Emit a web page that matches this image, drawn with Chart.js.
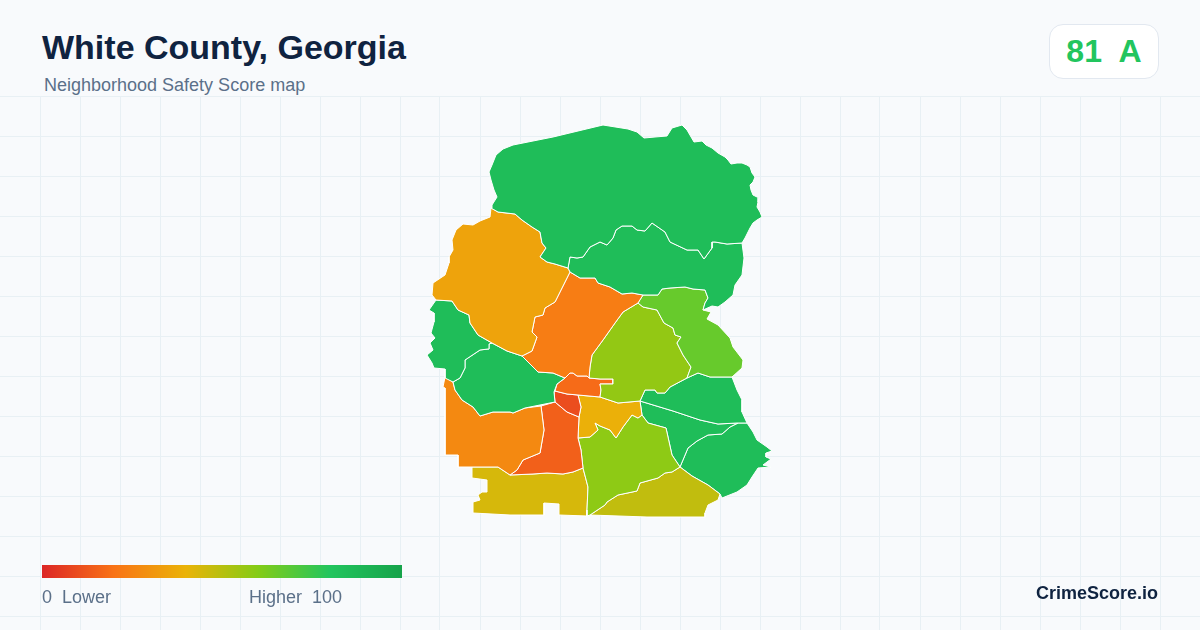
<!DOCTYPE html>
<html>
<head>
<meta charset="utf-8">
<title>White County, Georgia</title>
<script src="https://cdn.jsdelivr.net/npm/chart.js@4"></script>
<style>
    html, body { margin: 0; padding: 0; }
    body { width: 1200px; height: 630px; background: #f8fafc; position: relative; overflow: hidden; font-family: "Liberation Sans", Arial, sans-serif; }
    #myChart { position: absolute; left: 0; top: 96px; }
    .label { position: absolute; white-space: pre; }
    #title { left: 42px; top: 27px; font-size: 34px; font-weight: bold; color: #0f2340; line-height: 40px; }
    #subtitle { left: 44px; top: 75px; font-size: 18px; color: #5b7089; line-height: 20px; }
    #badge { position: absolute; left: 1049px; top: 24px; width: 108px; height: 53px; background: #fff; border: 1px solid #e2e8f0; border-radius: 14px; }
    #score { left: 1050px; width: 108px; top: 31px; text-align: center; font-size: 32px; font-weight: bold; color: #22c55e; line-height: 40px; }
    #ramp { position: absolute; left: 42px; top: 565px; width: 360px; height: 13px; }
    #low { left: 42px; top: 587px; font-size: 18px; color: #5b7089; line-height: 20px; }
    #high { left: 249px; top: 587px; font-size: 18px; color: #5b7089; line-height: 20px; }
    #brand { left: 1036px; top: 583px; font-size: 18px; font-weight: bold; color: #0f2340; line-height: 20px; }
</style>
</head>
<body>
<canvas id="myChart" width="1200" height="534"></canvas>
<div class="label" id="title">White County, Georgia</div>
<div class="label" id="subtitle">Neighborhood Safety Score map</div>
<div id="badge"></div>
<div class="label" id="score">81  A</div>
<div id="ramp"></div>
<div class="label" id="low">0  Lower</div>
<div class="label" id="high">Higher  100</div>
<div class="label" id="brand">CrimeScore.io</div>
<script>
const rampStops = [0, 20, 40, 60, 80, 100];
const rampColors = ['#dc2626', '#f97316', '#eab308', '#84cc16', '#22c55e', '#16a34a'];

const gridX = [40, 80, 120, 160, 200, 240, 280, 320, 360, 400, 440, 480, 520, 560, 600, 640, 680, 720, 760, 800, 840, 880, 920, 960, 1000, 1040, 1080, 1120, 1160];
const gridY = [96, 136, 176, 216, 256, 296, 336, 376, 416, 456, 496, 536, 576, 616];

const tractScores = [85, 85, 35, 23, 85, 85, 66, 57, 18, 10, 27, 15, 39, 58, 44, 48, 85, 85, 85];

// tract outlines
const northTract = [[492,205],[497,197],[494,190],[491,180],[489,172],[492,165],[496,155],[503,149],[513,145],[553,137],[603,125],[628,129],[637,132],[644,138],[655,137],[667,136],[672,128],[682,125],[687,130],[694,142],[702,141],[706,145],[712,148],[718,153],[725,157],[728,160],[731,164],[737,163],[742,163],[747,165],[750,167],[752,173],[755,177],[753,182],[750,185],[751,190],[753,195],[759,198],[758,202],[757,207],[760,212],[762,217],[757,220],[753,223],[750,228],[748,232],[745,238],[742,243],[727,244],[715,242],[712,242],[712,248],[704,259],[698,250],[687,250],[670,242],[665,232],[652,223],[645,231],[637,230],[632,226],[622,226],[616,230],[613,238],[607,245],[600,242],[590,247],[583,257],[577,258],[570,257],[568,268],[555,264],[547,262],[540,257],[546,248],[542,243],[540,232],[532,227],[522,220],[515,214],[498,212],[491,208],[492,205]];
const ridgeTract = [[742,243],[744,258],[742,275],[735,285],[733,295],[725,302],[718,307],[712,306],[703,310],[705,303],[708,298],[705,290],[693,289],[685,287],[670,288],[662,289],[658,295],[643,295],[632,293],[622,294],[610,287],[598,283],[595,278],[580,278],[570,272],[568,268],[570,257],[577,258],[583,257],[590,247],[600,242],[607,245],[613,238],[616,230],[622,226],[632,226],[637,230],[645,231],[652,223],[665,232],[670,242],[687,250],[698,250],[704,259],[712,248],[712,242],[715,242],[727,244],[742,243]];
const westernOrange = [[491,208],[490,217],[480,221],[473,225],[463,224],[456,230],[452,240],[453,250],[449,257],[449,263],[445,275],[433,283],[432,295],[436,300],[452,301],[458,310],[469,315],[470,323],[478,335],[492,343],[507,351],[522,356],[532,351],[537,337],[532,332],[535,317],[543,315],[545,308],[555,302],[560,292],[570,272],[568,268],[555,264],[547,262],[540,257],[546,248],[542,243],[540,232],[532,227],[522,220],[515,214],[498,212],[491,208]];
const centralOrange = [[570,272],[580,278],[595,278],[598,283],[610,287],[622,294],[632,293],[643,295],[638,303],[623,312],[615,323],[603,340],[592,355],[590,367],[589,378],[587,376],[577,376],[573,373],[570,373],[565,378],[553,373],[538,372],[522,356],[532,351],[537,337],[532,332],[535,317],[543,315],[545,308],[555,302],[560,292],[570,272]];
const westGreen = [[436,300],[429,310],[434,313],[434,322],[431,333],[435,338],[430,343],[433,350],[427,355],[432,363],[434,368],[445,369],[445,378],[453,382],[460,378],[465,368],[465,360],[480,350],[488,349],[489,344],[492,343],[478,335],[470,323],[469,315],[458,310],[452,301],[436,300]];
const midWestGreen = [[492,343],[507,351],[522,356],[538,372],[553,373],[565,378],[557,384],[554,392],[555,402],[540,405],[525,408],[513,413],[510,412],[493,412],[480,416],[473,407],[462,400],[455,390],[453,382],[460,378],[465,368],[465,360],[480,350],[488,349],[489,344],[492,343]];
const lightGreen = [[643,295],[658,295],[662,289],[670,288],[685,287],[693,289],[705,290],[708,298],[705,303],[703,310],[711,312],[707,319],[718,325],[730,338],[733,347],[743,360],[742,368],[732,377],[722,377],[710,377],[698,373],[687,378],[691,367],[683,355],[677,343],[681,337],[675,335],[673,328],[664,323],[657,310],[643,307],[638,303],[643,295]];
const centerLime = [[638,303],[643,307],[657,310],[664,323],[673,328],[675,335],[681,337],[677,343],[683,355],[691,367],[687,378],[670,387],[665,393],[657,393],[655,390],[645,390],[640,401],[618,403],[600,397],[601,390],[600,384],[613,384],[613,379],[600,379],[589,378],[590,367],[592,355],[603,340],[615,323],[623,312],[638,303]];
const townOrange = [[555,391],[557,384],[565,378],[570,373],[573,373],[577,376],[587,376],[589,378],[600,379],[613,379],[613,384],[600,384],[601,390],[600,397],[578,395],[567,394],[555,391]];
const townRed = [[555,391],[567,394],[578,395],[581,407],[579,417],[567,412],[555,402],[554,392],[555,391]];
const southWestOrange = [[453,382],[445,377],[443,387],[445,388],[445,455],[458,455],[458,467],[472,467],[488,467],[498,467],[510,475],[517,470],[523,460],[540,453],[544,430],[541,406],[525,408],[513,413],[510,412],[493,412],[480,416],[473,407],[462,400],[455,390],[453,382]];
const southCentral = [[541,406],[555,402],[567,412],[579,417],[578,438],[581,450],[583,468],[573,472],[563,474],[547,473],[533,474],[510,475],[517,470],[523,460],[540,453],[544,430],[541,406]];
const centerYellow = [[578,395],[600,397],[618,403],[640,401],[642,415],[638,418],[632,415],[623,427],[616,438],[610,430],[600,426],[595,423],[598,430],[590,437],[578,438],[579,417],[581,407],[578,395]];
const southLime = [[680,467],[672,455],[666,428],[648,423],[642,415],[638,418],[632,415],[623,427],[616,438],[610,430],[600,426],[595,423],[598,430],[590,437],[578,438],[581,450],[583,468],[588,487],[587,510],[587,516],[590,515],[605,505],[607,502],[618,495],[637,491],[640,483],[658,478],[665,473],[672,472],[680,467]];
const southYellow = [[472,467],[488,467],[498,467],[510,475],[533,474],[547,473],[563,474],[573,472],[583,468],[588,487],[587,510],[587,516],[559,515],[559,504],[544,503],[544,515],[510,515],[473,513],[473,502],[480,500],[478,495],[482,492],[487,492],[487,480],[472,478],[472,467]];
const southEastOlive = [[680,467],[692,476],[708,485],[720,494],[718,500],[708,505],[705,513],[705,517],[647,517],[590,515],[605,505],[607,502],[618,495],[637,491],[640,483],[658,478],[665,473],[672,472],[680,467]];
const eastUpper = [[640,401],[645,390],[655,390],[657,393],[665,393],[670,387],[687,378],[698,373],[710,377],[722,377],[732,377],[737,390],[742,400],[742,412],[747,423],[737,423],[718,424],[700,420],[673,411],[640,401]];
const eastMiddle = [[640,401],[673,411],[700,420],[718,424],[738,423],[730,427],[722,434],[708,435],[697,441],[688,448],[680,467],[672,455],[666,428],[648,423],[642,415],[640,401]];
const eastLower = [[747,423],[753,432],[757,440],[767,447],[772,451],[766,453],[766,457],[771,459],[763,465],[771,467],[758,468],[752,477],[747,485],[737,492],[722,498],[720,494],[708,485],[692,476],[680,467],[688,448],[697,441],[708,435],[722,434],[730,427],[738,423],[747,423]];

const tractShapes = [northTract, ridgeTract, westernOrange, centralOrange, westGreen, midWestGreen, lightGreen, centerLime, townOrange, townRed, southWestOrange, southCentral, centerYellow, southLime, southYellow, southEastOlive, eastUpper, eastMiddle, eastLower];

function hexToRgb(hex) {
    return [1, 3, 5].map((i) => parseInt(hex.slice(i, i + 2), 16));
}

function scoreColor(score) {
    let i = 0;
    while (i < rampStops.length - 2 && score > rampStops[i + 1]) i++;
    const t = (score - rampStops[i]) / (rampStops[i + 1] - rampStops[i]);
    const a = hexToRgb(rampColors[i]);
    const b = hexToRgb(rampColors[i + 1]);
    const mix = a.map((v, k) => Math.round(v + (b[k] - v) * t));
    return `rgb(${mix[0]}, ${mix[1]}, ${mix[2]})`;
}

function initChart(target) {
    const datasets = tractShapes.map((shape, i) => ({
        data: shape.map((p) => ({ x: p[0], y: p[1] })),
        showLine: true,
        fill: 'shape',
        tension: 0,
        spanGaps: true,
        pointRadius: 0,
        borderWidth: 1,
        borderColor: '#ffffff',
        backgroundColor: scoreColor(tractScores[i]),
        clip: false
    }));

    return new Chart(target, {
        type: 'scatter',
        data: { datasets: datasets },
        options: {
            responsive: false,
            animation: false,
            layout: { padding: 0 },
            plugins: { legend: { display: false }, tooltip: { enabled: false } },
            scales: {
                x: {
                    type: 'linear',
                    min: 0,
                    max: 1200,
                    afterBuildTicks: (axis) => { axis.ticks = gridX.map((v) => ({ value: v })); },
                    ticks: { display: false },
                    border: { display: false },
                    grid: { color: '#e8f0f4', lineWidth: 1, drawTicks: false }
                },
                y: {
                    type: 'linear',
                    reverse: true,
                    min: 96,
                    max: 630,
                    afterBuildTicks: (axis) => { axis.ticks = gridY.map((v) => ({ value: v })); },
                    ticks: { display: false },
                    border: { display: false },
                    grid: { color: '#e8f0f4', lineWidth: 1, drawTicks: false }
                }
            }
        }
    });
}

document.querySelector('#ramp').style.background = 'linear-gradient(to right, '
    + rampColors.map((c, i) => `${c} ${rampStops[i]}%`).join(', ') + ')';
initChart(document.querySelector('#myChart'));
</script>
</body>
</html>
